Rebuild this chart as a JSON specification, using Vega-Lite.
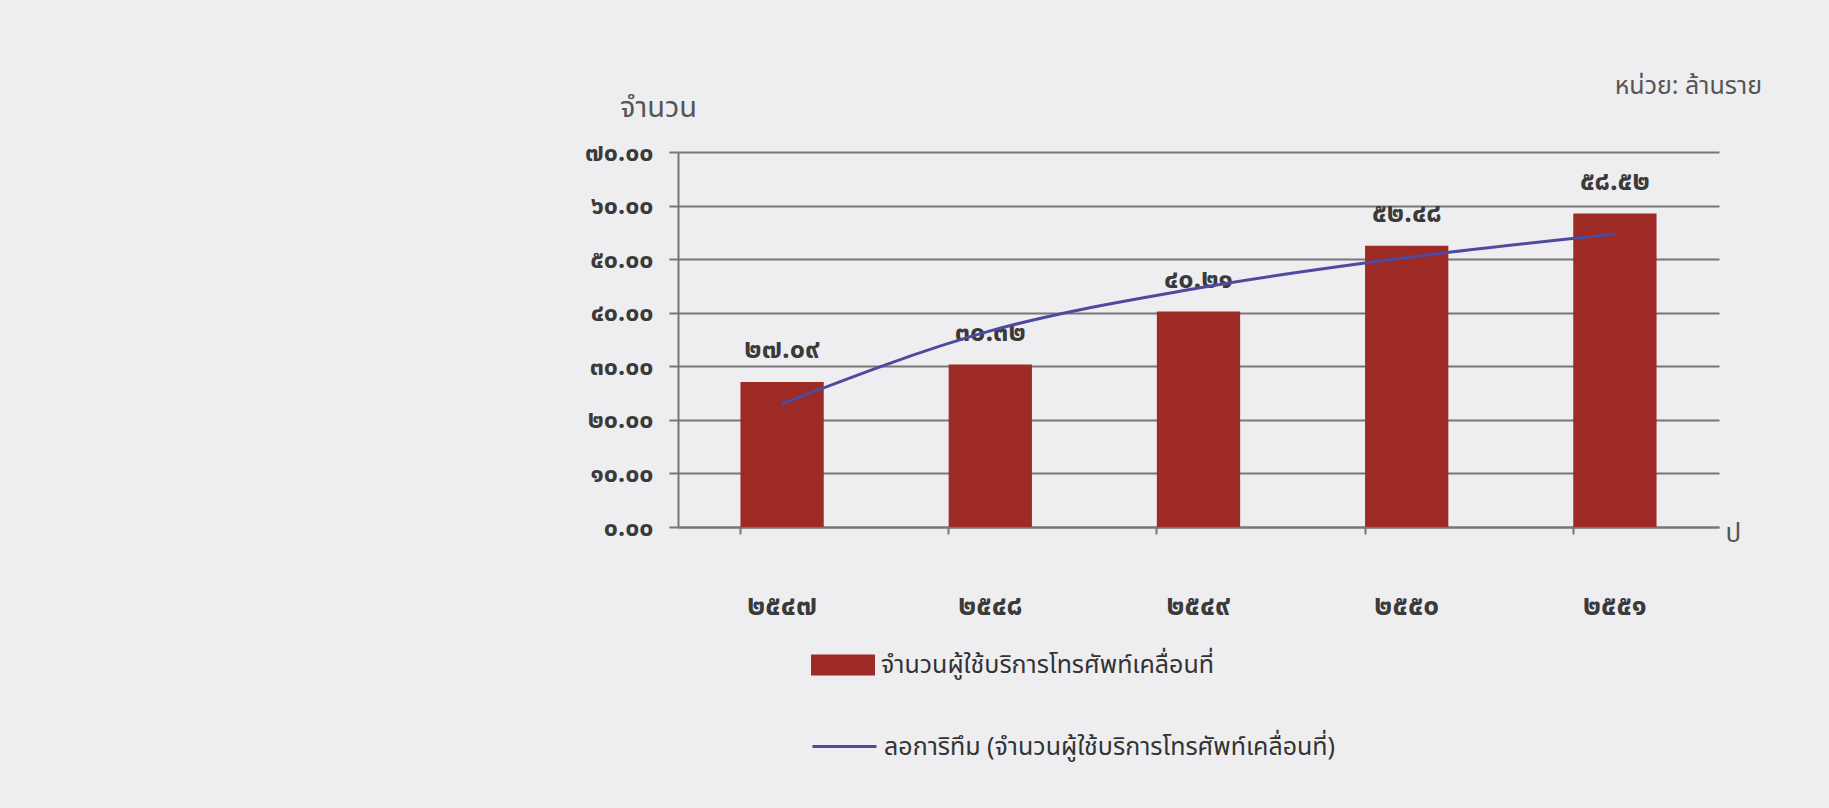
{
  "$schema": "https://vega.github.io/schema/vega-lite/v6.json",
  "width": 1041,
  "height": 375,
  "autosize": "none",
  "padding": {"left": 678, "top": 152, "right": 110, "bottom": 281},
  "background": "#EEEEF1",
  "title": {
    "text": "หน่วย: ล้านราย",
    "anchor": "end",
    "frame": "group",
    "dx": 43,
    "offset": -6,
    "fontSize": 25,
    "fontWeight": "normal",
    "font": "Noto Sans Thai, Noto Sans, sans-serif",
    "color": "#555555"
  },
  "config": {
    "view": {"stroke": null},
    "font": "Noto Sans Thai, Noto Sans, sans-serif",
    "axis": {
      "domainColor": "#777777",
      "domainWidth": 2,
      "tickColor": "#777777",
      "tickWidth": 2,
      "gridColor": "#777777",
      "gridWidth": 2,
      "labelColor": "#3A3A3A",
      "labelFontWeight": "bold",
      "titleColor": "#555555",
      "titleFontWeight": "normal"
    }
  },
  "data": {
    "values": [
      {"year": "๒๕๔๗", "users": 27.09, "label": "๒๗.๐๙", "trend": 23.0},
      {"year": "๒๕๔๘", "users": 30.32, "label": "๓๐.๓๒", "trend": 36.6},
      {"year": "๒๕๔๙", "users": 40.21, "label": "๔๐.๒๑", "trend": 44.6},
      {"year": "๒๕๕๐", "users": 52.48, "label": "๕๒.๔๘", "trend": 50.3},
      {"year": "๒๕๕๑", "users": 58.52, "label": "๕๘.๕๒", "trend": 54.7}
    ]
  },
  "encoding": {
    "x": {
      "field": "year",
      "type": "nominal",
      "sort": null,
      "scale": {"paddingInner": 0.6, "paddingOuter": 0.3},
      "axis": {
        "labelAngle": 0,
        "labelFontSize": 28,
        "labelPadding": 58,
        "tickSize": 7,
        "bandPosition": 0,
        "title": "ป",
        "titleAngle": 0,
        "titleAlign": "left",
        "titleBaseline": "alphabetic",
        "titleX": 1047,
        "titleY": 14,
        "titleFontSize": 26
      }
    }
  },
  "layer": [
    {
      "mark": {"type": "bar"},
      "encoding": {
        "y": {
          "field": "users",
          "type": "quantitative",
          "scale": {"domain": [0, 70], "nice": false},
          "axis": {
            "values": [0, 10, 20, 30, 40, 50, 60, 70],
            "format": ".2f",
            "labelExpr": "replace(replace(replace(replace(replace(replace(replace(replace(datum.label, regexp('0','g'), '๐'), regexp('1','g'), '๑'), regexp('2','g'), '๒'), regexp('3','g'), '๓'), regexp('4','g'), '๔'), regexp('5','g'), '๕'), regexp('6','g'), '๖'), regexp('7','g'), '๗')",
            "labelFontSize": 25,
            "tickSize": 9,
            "labelPadding": 16,
            "grid": true,
            "title": "จำนวน",
            "titleAngle": 0,
            "titleAlign": "center",
            "titleBaseline": "alphabetic",
            "titleX": -20,
            "titleY": -36,
            "titleFontSize": 29
          }
        },
        "fill": {
          "datum": "จำนวนผู้ใช้บริการโทรศัพท์เคลื่อนที่",
          "scale": {"range": ["#9D2A24"]},
          "legend": {
            "orient": "none",
            "legendX": 133,
            "legendY": 481,
            "title": null,
            "symbolType": "M-1,-0.33H1V0.33H-1Z",
            "symbolSize": 4096,
            "symbolStrokeWidth": 0,
            "labelFontSize": 25,
            "labelLimit": 0,
            "labelColor": "#333333",
            "labelOffset": 6
          }
        }
      }
    },
    {
      "mark": {"type": "text", "dy": -32, "fontSize": 27, "fontWeight": "bold", "color": "#3A3A3A"},
      "encoding": {
        "y": {"field": "users", "type": "quantitative"},
        "text": {"field": "label"}
      }
    },
    {
      "mark": {"type": "line", "interpolate": "monotone", "strokeWidth": 3},
      "encoding": {
        "y": {"field": "trend", "type": "quantitative"},
        "stroke": {
          "datum": "ลอการิทึม (จำนวนผู้ใช้บริการโทรศัพท์เคลื่อนที่)",
          "scale": {"range": ["#4E4A9E"]},
          "legend": {
            "orient": "none",
            "legendX": 133,
            "legendY": 561,
            "title": null,
            "symbolType": "stroke",
            "symbolSize": 4096,
            "symbolStrokeWidth": 3,
            "labelFontSize": 25,
            "labelLimit": 0,
            "labelColor": "#333333",
            "labelOffset": 6
          }
        }
      }
    }
  ]
}
